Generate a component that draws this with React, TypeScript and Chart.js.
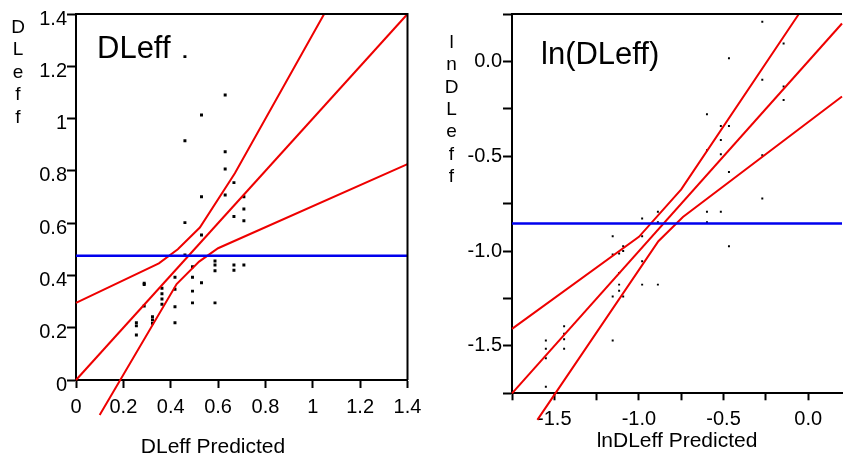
import React, { useEffect, useRef } from 'react';
import { Chart, registerables } from 'chart.js';

Chart.register(...registerables);

const FONT = '"Liberation Sans", Arial, Helvetica, sans-serif';

// ---------- Left panel: DLeff ----------
const dleffTicks = [0, 0.2, 0.4, 0.6, 0.8, 1, 1.2, 1.4];
const dleffPredicted = [
  0.46, 0.63, 0.53, 0.46, 0.63, 0.63, 0.667, 0.53, 0.63, 0.709, 0.709, 0.667, 0.709, 0.46, 0.53,
  0.46, 0.587, 0.587, 0.667, 0.667, 0.709, 0.587, 0.492, 0.418, 0.492, 0.53, 0.288, 0.288, 0.363,
  0.418, 0.363, 0.492, 0.363, 0.363, 0.288, 0.418, 0.492, 0.587, 0.323, 0.323, 0.323, 0.255, 0.255,
  0.255, 0.418,
];
const dleffActual = [
  1.237, 1.09, 1.014, 0.915, 0.873, 0.807, 0.755, 0.701, 0.708, 0.701, 0.654, 0.625, 0.609, 0.602, 0.555,
  0.478, 0.455, 0.44, 0.44, 0.42, 0.44, 0.418, 0.433, 0.393, 0.393, 0.372, 0.37, 0.365, 0.351,
  0.347, 0.33, 0.34, 0.31, 0.29, 0.283, 0.28, 0.295, 0.295, 0.242, 0.23, 0.217, 0.219, 0.207,
  0.172, 0.219,
];
const dleffFitX = [0, 1.4];
const dleffFitY = [0, 1.4];
const dleffUpperX = [0, 0.35, 0.43, 0.523, 0.671, 1.048];
const dleffUpperY = [0.295, 0.446, 0.5, 0.583, 0.791, 1.4];
const dleffLowerX = [0.1, 0.425, 0.52, 0.6, 1.4];
const dleffLowerY = [-0.134, 0.367, 0.453, 0.504, 0.826];
const dleffMeanX = [0, 1.4];
const dleffMean = 0.475;

// ---------- Right panel: ln(DLeff) ----------
const lnXTicks = [-1.75, -1.5, -1.25, -1, -0.75, -0.5, -0.25, 0];
const lnYTicks = [-1.75, -1.5, -1.25, -1, -0.75, -0.5, -0.25, 0, 0.25];
const lnPredicted = [
  -0.271, -0.145, -0.468, -0.271, -0.145, -0.145, -0.598, -0.516, -0.468, -0.516, -0.598, -0.516,
  -0.271, -0.468, -0.271, -0.598, -0.516, -0.598, -0.888, -0.888, -0.981, -0.981, -0.468, -1.155,
  -1.093, -1.093, -1.117, -1.155, -0.981, -1.117, -0.981, -0.888, -1.117, -1.117, -1.155, -1.093,
  -1.155, -1.442, -1.442, -1.442, -1.442, -1.55, -1.55, -1.55, -1.55,
];
const lnActual = [
  0.209, 0.095, 0.017, -0.097, -0.132, -0.203, -0.279, -0.34, -0.34, -0.414, -0.469, -0.49,
  -0.495, -0.583, -0.723, -0.793, -0.793, -0.848, -0.793, -0.848, -0.828, -0.922, -0.975, -0.922,
  -0.975, -1.0, -1.013, -1.018, -1.054, -1.115, -1.177, -1.177, -1.177, -1.209, -1.239, -1.239,
  -1.471, -1.397, -1.436, -1.465, -1.515, -1.471, -1.515, -1.565, -1.715,
];
const lnFitX = [-1.75, 0.2];
const lnFitY = [-1.75, 0.2];
const lnUpperX = [-1.75, -1.0, -0.75, -0.055];
const lnUpperY = [-1.41, -0.925, -0.675, 0.25];
const lnLowerX = [-1.6, -0.885, -0.74, 0.2];
const lnLowerY = [-1.89, -0.948, -0.82, -0.185];
const lnMeanX = [-1.75, 0.2];
const lnMean = -0.855;

const pts = (xs: number[], ys: number[]) => xs.map((x, i) => ({ x, y: ys[i] }));

type PanelCfg = {
  label: string;
  labelX: number;
  labelY: number;
  xTitle: string;
  xTitleX: number;
  xTitleY: number;
  yLetters: string[];
  yLetterX: number;
  yLetterStart: number;
  yLetterStep: number;
  closeRight: boolean;
};

function panelPlugin(cfg: PanelCfg) {
  return {
    id: 'panelText',
    afterDraw(chart: any) {
      const { ctx, chartArea: a } = chart;
      ctx.save();
      ctx.strokeStyle = '#000';
      ctx.lineWidth = 2;
      ctx.beginPath();
      ctx.moveTo(a.left - 1, a.top);
      ctx.lineTo(a.right, a.top);
      if (cfg.closeRight) ctx.lineTo(a.right, a.bottom);
      ctx.stroke();
      ctx.fillStyle = '#000';
      ctx.textBaseline = 'alphabetic';
      ctx.textAlign = 'left';
      ctx.font = `31px ${FONT}`;
      ctx.fillText(cfg.label, cfg.labelX, cfg.labelY);
      ctx.textAlign = 'center';
      ctx.font = `21px ${FONT}`;
      ctx.fillText(cfg.xTitle, cfg.xTitleX, cfg.xTitleY);
      ctx.font = `19px ${FONT}`;
      cfg.yLetters.forEach((ch, i) => {
        ctx.fillText(ch, cfg.yLetterX, cfg.yLetterStart + i * cfg.yLetterStep);
      });
      ctx.restore();
    },
  };
}

function lineDs(data: any[], color: string, width: number) {
  return {
    type: 'scatter' as const,
    data,
    showLine: true,
    borderColor: color,
    backgroundColor: color,
    borderWidth: width,
    pointRadius: 0,
    tension: 0,
    clip: false as any,
    order: 1,
  };
}

function axis(
  min: number,
  max: number,
  ticks: number[],
  fmt: (v: number) => string,
  tickLength: number,
  padding: number,
  fit: (s: any) => void,
  labelOffset = 0
) {
  return {
    type: 'linear' as const,
    min,
    max,
    afterBuildTicks: (s: any) => {
      s.ticks = ticks.map((v) => ({ value: v }));
    },
    afterFit: fit,
    ticks: {
      color: '#000',
      font: { family: FONT, size: 20 },
      padding,
      labelOffset,
      maxRotation: 0,
      autoSkip: false,
      callback: (v: any) => fmt(Number(v)),
    },
    grid: {
      drawOnChartArea: false,
      drawTicks: true,
      tickLength,
      tickColor: '#000',
      tickWidth: 2,
    },
    border: { display: true, color: '#000', width: 2 },
  };
}

const fmtLeft = (v: number) => String(Number(v.toFixed(1)));
const fmtRight = (v: number) =>
  Math.abs(v * 2 - Math.round(v * 2)) < 1e-9 ? (Math.abs(v) < 1e-9 ? '0.0' : v.toFixed(1)) : '';

export default function App() {
  const leftRef = useRef<HTMLCanvasElement>(null);
  const rightRef = useRef<HTMLCanvasElement>(null);

  useEffect(() => {
    Chart.defaults.font.family = FONT;
    const left = new Chart(leftRef.current!, {
      type: 'scatter',
      data: {
        datasets: [
          {
            data: pts(dleffPredicted, dleffActual),
            pointStyle: 'rect',
            pointRadius: 2.1,
            borderWidth: 0,
            backgroundColor: '#000',
            order: 3,
          } as any,
          lineDs(pts(dleffMeanX, [dleffMean, dleffMean]), '#0000ee', 2.5),
          lineDs(pts(dleffFitX, dleffFitY), '#ee0000', 2),
          lineDs(pts(dleffUpperX, dleffUpperY), '#ee0000', 2),
          lineDs(pts(dleffLowerX, dleffLowerY), '#ee0000', 2),
        ],
      },
      options: {
        responsive: false,
        animation: false,
        events: [],
        layout: { padding: { left: 0, right: 22.5, top: 14, bottom: 0 } },
        plugins: { legend: { display: false }, tooltip: { enabled: false } },
        scales: {
          x: axis(0, 1.4, dleffTicks, fmtLeft, 8, 7, (s: any) => {
            s.height = 80;
          }),
          y: axis(
            0,
            1.4,
            dleffTicks,
            fmtLeft,
            9,
            0,
            (s: any) => {
              s.width = 76;
            },
            5
          ),
        },
      } as any,
      plugins: [
        panelPlugin({
          label: 'DLeff',
          labelX: 97,
          labelY: 58,
          xTitle: 'DLeff Predicted',
          xTitleX: 213,
          xTitleY: 453,
          yLetters: ['D', 'L', 'e', 'f', 'f'],
          yLetterX: 18,
          yLetterStart: 33,
          yLetterStep: 22.4,
          closeRight: true,
        }),
      ],
    });

    const right = new Chart(rightRef.current!, {
      type: 'scatter',
      data: {
        datasets: [
          {
            data: pts(lnPredicted, lnActual),
            pointStyle: 'rect',
            pointRadius: 1.4,
            borderWidth: 0,
            backgroundColor: '#000',
            order: 3,
          } as any,
          lineDs(pts(lnMeanX, [lnMean, lnMean]), '#0000ee', 2.5),
          lineDs(pts(lnFitX, lnFitY), '#ee0000', 2),
          lineDs(pts(lnUpperX, lnUpperY), '#ee0000', 2),
          lineDs(pts(lnLowerX, lnLowerY), '#ee0000', 2),
        ],
      },
      options: {
        responsive: false,
        animation: false,
        events: [],
        layout: { padding: { left: 0, right: 0, top: 14, bottom: 0 } },
        plugins: { legend: { display: false }, tooltip: { enabled: false } },
        scales: {
          x: axis(-1.75, 0.2, lnXTicks, fmtRight, 7, 7, (s: any) => {
            s.height = 66.7;
          }),
          y: axis(-1.75, 0.25, lnYTicks, fmtRight, 9, 1, (s: any) => {
            s.width = 92;
          }),
        },
      } as any,
      plugins: [
        panelPlugin({
          label: 'ln(DLeff)',
          labelX: 121,
          labelY: 63.5,
          xTitle: 'lnDLeff Predicted',
          xTitleX: 257,
          xTitleY: 446.7,
          yLetters: ['l', 'n', 'D', 'L', 'e', 'f', 'f'],
          yLetterX: 31.5,
          yLetterStart: 48,
          yLetterStep: 22.3,
          closeRight: false,
        }),
      ],
    });

    return () => {
      left.destroy();
      right.destroy();
    };
  }, []);

  return (
    <div
      style={{
        position: 'absolute',
        left: 0,
        top: 0,
        width: 846,
        height: 460,
        background: '#fff',
        overflow: 'hidden',
      }}
    >
      <canvas
        ref={leftRef}
        width={430}
        height={460}
        style={{ position: 'absolute', left: 0, top: 0 }}
      />
      <canvas
        ref={rightRef}
        width={426}
        height={460}
        style={{ position: 'absolute', left: 420, top: 0 }}
      />
    </div>
  );
}
